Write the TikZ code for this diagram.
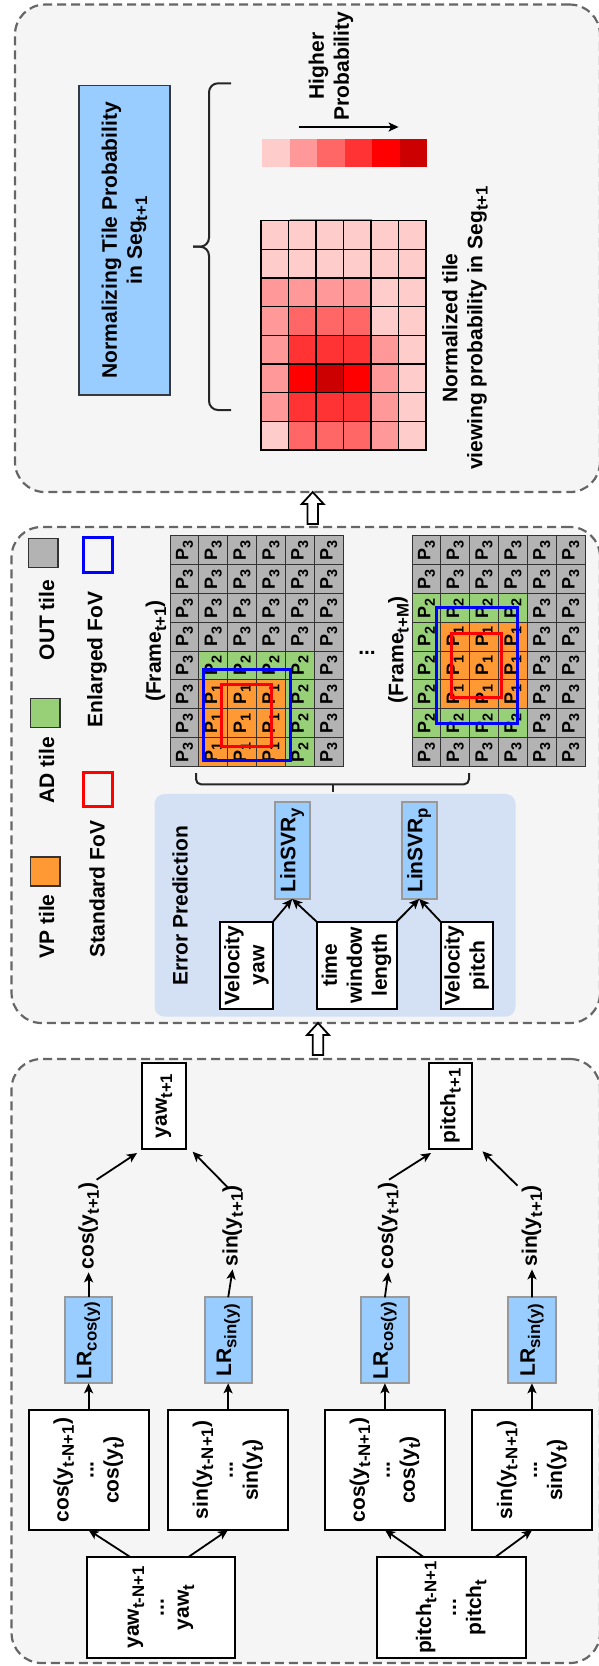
\documentclass[tikz,border=0pt]{standalone}
\usepackage{fontspec}
\setmainfont{Liberation Sans}
\usepackage{graphicx}
\usetikzlibrary{arrows.meta,positioning,calc}
\definecolor{PanelGray}{HTML}{F5F5F5}
\definecolor{DashGray}{HTML}{666666}
\definecolor{SkyBlue}{HTML}{99CCFF}
\definecolor{NormEdge}{HTML}{36393D}
\definecolor{PaleBlue}{HTML}{D4E1F5}
\definecolor{tile1}{HTML}{FF9933}
\definecolor{tile2}{HTML}{97D077}
\definecolor{tile3}{HTML}{B3B3B3}
\definecolor{heatL}{HTML}{FFCCCC}
\definecolor{heatM}{HTML}{FF9999}
\definecolor{heatA}{HTML}{FF6666}
\definecolor{heatB}{HTML}{FF3333}
\definecolor{heatR}{HTML}{FF0000}
\definecolor{heatD}{HTML}{CC0000}
\newcommand{\lowtext}[1]{\raisebox{-0.25em}{\scalebox{0.8}{#1}}}
\tikzset{hollowup/.pic={\draw[fill=white, line width=1.8pt] (0,0) -- (11,12) -- (5.3,12) -- (5.3,32) -- (-5.3,32) -- (-5.3,12) -- (-11,12) -- cycle;}}

\begin{document}
\begin{tikzpicture}[x=1pt, y=-1pt, >={Stealth[length=10pt,width=9pt,inset=2.5pt]},
  every node/.style={font=\fontsize{21}{25}\selectfont\bfseries, align=center, inner sep=0pt, outer sep=0pt},
  panel/.style={draw=DashGray, fill=PanelGray, line width=2.2pt, dash pattern=on 9pt off 5pt, rounded corners=30pt},
  box/.style={draw=black, fill=white, line width=2pt, rotate=90},
  model/.style={draw=black!40, fill=SkyBlue, line width=2pt, rotate=90},
  lbl/.style={rotate=90, inner sep=3pt},
  conn/.style={->, line width=1.8pt},
  brace/.style={line width=2pt, draw=black!85, rounded corners=9pt},
  heatcell/.style={draw=black, line width=1.3pt, minimum width=27.5pt, minimum height=28.66pt},
  tile/.style={draw=black!80, line width=1pt, minimum width=28.85pt, minimum height=28.8pt, rotate=90, font=\fontsize{18}{18}\selectfont\bfseries},
  legsq/.style={draw=black!80, line width=1.5pt, minimum width=29.5pt, minimum height=29pt}]
\useasboundingbox (0,0) rectangle (598,1666);

% panels
\node[panel, minimum width=585pt, minimum height=487.5pt] (pan1) at (307.5,248.3) {};
\node[panel, minimum width=588.5pt, minimum height=496pt] (pan2) at (305.8,775) {};
\node[panel, minimum width=588.5pt, minimum height=604pt] (pan3) at (305.8,1361) {};
\pic at ([xshift=5.2pt]pan1.south) {hollowup};
\pic at ([xshift=12.2pt]pan2.south) {hollowup};

% normalization
\node[draw=NormEdge, fill=SkyBlue, line width=1.3pt, rotate=90, minimum width=309.7pt, minimum height=91pt] (norm) at (124.5,240.2) {Normalizing Tile Probability\\in Seg\lowtext{t+1}};
\draw[brace] (231,83.3) -- (209,83.3) -- (209,246.7) -- (193,246.7);
\draw[brace] (193,246.7) -- (209,246.7) -- (209,410) -- (231,410);
\node[lbl] (higher) at (331,66) {Higher\\Probability};
\coordinate (hp0) at (298.6,127);
\coordinate (hp1) at (398.6,127);
\draw[conn] (hp0) -- (hp1);
\foreach \c [count=\k] in {L,M,A,B,R,D}
  \fill[heat\c] ({262+(\k-1)*27.5},139) rectangle ++(27.5,28);
\draw[tile2!80!black, line width=1pt] (290,219.6) -- (372,219.6);
\foreach \row [count=\r] in {{L,L,L,L,L,L},{L,L,L,L,L,L},{M,M,M,M,L,L},{M,A,A,A,L,L},{M,B,B,B,M,L},{M,R,D,R,M,L},{M,B,B,B,M,L},{L,A,A,A,M,L}}
  \foreach \c [count=\k] in \row
    \node[heatcell, fill=heat\c] (hm-\r-\k) at ({261+(\k-0.5)*27.5},{220.7+(\r-0.5)*28.66}) {};
\node[lbl] (normtxt) at (465,328) {Normalized tile\\viewing probability in Seg\lowtext{t+1}};

% legend
\node[legsq, fill=tile3] (sqout) at (43,553) {};
\node[lbl] (outtxt) at (46.5,620) {OUT tile};
\node[legsq, fill=tile2] (sqad) at (45.3,713) {};
\node[lbl] (adtxt) at (46.5,770) {AD tile};
\node[legsq, fill=tile1] (sqvp) at (45.3,871.5) {};
\node[lbl] (vptxt) at (46.5,926.5) {VP tile};
\node[draw=blue, line width=3pt, minimum width=29.5pt, minimum height=35pt] (sqenl) at (97.8,554.5) {};
\node[lbl] (enltxt) at (97,659.5) {Enlarged FoV};
\node[draw=red, line width=3pt, minimum width=29.5pt, minimum height=34pt] (sqstd) at (97.8,789) {};
\node[lbl] (stdtxt) at (97,889) {Standard FoV};

% frames
\foreach \row [count=\r] in {{3,3,3,3,3,3},{3,3,3,3,3,3},{3,3,3,3,3,3},{3,3,3,3,3,3},{3,2,2,2,2,3},{3,1,1,1,2,3},{3,1,1,1,2,3},{3,1,1,1,2,3}}
  \foreach \t [count=\k] in \row
    \node[tile, fill=tile\t] (fa-\r-\k) at ({170+(\k-0.5)*28.85},{536+(\r-0.5)*28.8}) {P\lowtext{\t}};
\foreach \row [count=\r] in {{3,3,3,3,3,3},{3,3,3,3,3,3},{2,2,2,2,3,3},{2,1,1,1,3,3},{2,1,1,1,3,3},{2,1,1,1,3,3},{2,2,2,2,3,3},{3,3,3,3,3,3}}
  \foreach \t [count=\k] in \row
    \node[tile, fill=tile\t] (fm-\r-\k) at ({412+(\k-0.5)*28.85},{536+(\r-0.5)*28.8}) {P\lowtext{\t}};
\draw[blue, line width=3pt] (203,669) rectangle (290,760.7);
\draw[red, line width=3pt] (221,684) rectangle (271.5,746.7);
\draw[blue, line width=3pt] (436.7,607.5) rectangle (517.3,723.3);
\draw[red, line width=3pt] (451.7,633.3) rectangle (501.7,697);
\node[lbl] (fr1) at (156,651) {(Frame\lowtext{t+1})};
\node[lbl] (frm) at (398.5,650) {(Frame\lowtext{t+M})};
\node[anchor=base] (gap) at (367,654) {...};
\draw[brace, rounded corners=5pt] (196,773) -- (196,784.3) -- (469,784.3) -- (469,773);
\draw[brace] (332.5,784.3) -- (332.5,792.3);

% error prediction
\node[fill=PaleBlue, rounded corners=10pt, minimum width=361pt, minimum height=222.7pt] (ep) at (335,905.3) {};
\node[lbl] (eptitle) at (180,906) {Error Prediction};
\node[model, minimum width=97.3pt, minimum height=35.1pt] (svry) at (292.2,850.3) {LinSVR\lowtext{y}};
\node[model, minimum width=97.3pt, minimum height=35.1pt] (svrp) at (419.2,850.3) {LinSVR\lowtext{p}};
\node[box, minimum width=87.3pt, minimum height=53pt] (velyaw) at (246.5,965.3) {Velocity\\yaw};
\node[box, minimum width=87.3pt, minimum height=80pt] (twin) at (356.6,965.3) {time\\window\\length};
\node[box, minimum width=87.3pt, minimum height=52.5pt] (velpitch) at (466.8,965.3) {Velocity\\pitch};
\draw[conn] (velyaw.south east) -- (svry.west);
\draw[conn] (twin.north east) -- (svry.west);
\draw[conn] (twin.south east) -- (svrp.west);
\draw[conn] (velpitch.north east) -- (svrp.west);

% head orientation regression
\node[box, minimum width=86.6pt, minimum height=43.7pt] (yawout) at (163.9,1106) {yaw\lowtext{t+1}};
\node[box, minimum width=86.6pt, minimum height=43pt] (pitchout) at (450.5,1106) {pitch\lowtext{t+1}};
\node[lbl] (cosyaw) at (88.6,1226) {cos(y\lowtext{t+1})};
\node[lbl] (sinyaw) at (232.6,1226) {sin(y\lowtext{t+1})};
\node[lbl] (cospitch) at (388.3,1226) {cos(y\lowtext{t+1})};
\node[lbl] (sinpitch) at (532,1226) {sin(y\lowtext{t+1})};
\node[model, minimum width=86pt, minimum height=47.7pt] (lrcy) at (88.6,1340.3) {LR\lowtext{cos(y)}};
\node[model, minimum width=86pt, minimum height=47pt] (lrsy) at (228.2,1340.3) {LR\lowtext{sin(y)}};
\node[model, minimum width=86pt, minimum height=47.7pt] (lrcp) at (384.9,1340.3) {LR\lowtext{cos(y)}};
\node[model, minimum width=86pt, minimum height=47.7pt] (lrsp) at (531.9,1340.3) {LR\lowtext{sin(y)}};
\node[box, minimum width=120pt, minimum height=120pt] (cosy) at (88.6,1470) {cos(y\lowtext{t-N+1})\\...\\cos(y\lowtext{t})};
\node[box, minimum width=120pt, minimum height=120pt] (siny) at (227.9,1470) {sin(y\lowtext{t-N+1})\\...\\sin(y\lowtext{t})};
\node[box, minimum width=120pt, minimum height=120pt] (cosp) at (385,1470) {cos(y\lowtext{t-N+1})\\...\\cos(y\lowtext{t})};
\node[box, minimum width=120pt, minimum height=120.5pt] (sinp) at (532.1,1470) {sin(y\lowtext{t-N+1})\\...\\sin(y\lowtext{t})};
\node[box, minimum width=101.6pt, minimum height=147.6pt] (yawin) at (160.8,1607.5) {yaw\lowtext{t-N+1}\\...\\yaw\lowtext{t}};
\node[box, minimum width=101.6pt, minimum height=148.8pt] (pitchin) at (451.2,1607.5) {pitch\lowtext{t-N+1}\\...\\pitch\lowtext{t}};
\draw[conn] ([xshift=-31pt]yawin.east) -- (cosy.west);
\draw[conn] ([xshift=28pt]yawin.east) -- (siny.west);
\draw[conn] ([xshift=-28pt]pitchin.east) -- (cosp.west);
\draw[conn] ([xshift=44.6pt]pitchin.east) -- (sinp.west);
\draw[conn] (cosy.east) -- (lrcy.west);
\draw[conn] (siny.east) -- (lrsy.west);
\draw[conn] (cosp.east) -- (lrcp.west);
\draw[conn] (sinp.east) -- (lrsp.west);
\draw[conn] (lrcy.east) -- (cosyaw.west);
\draw[conn] (lrsy.east) -- (sinyaw.west);
\draw[conn] (lrcp.east) -- (cospitch.west);
\draw[conn] (lrsp.east) -- (sinpitch.west);
\draw[conn] ([shift={(8,0)}]cosyaw.east) -- ([shift={(-5,3.7)}]yawout.north west);
\draw[conn] ([shift={(-4.6,5)}]sinyaw.east) -- ([shift={(6.9,2.4)}]yawout.south west);
\draw[conn] ([shift={(0.7,0)}]cospitch.east) -- ([shift={(2,3.7)}]pitchout.north west);
\draw[conn] ([shift={(-14.5,3)}]sinpitch.east) -- ([shift={(10.5,2)}]pitchout.south west);
\end{tikzpicture}
\end{document}
